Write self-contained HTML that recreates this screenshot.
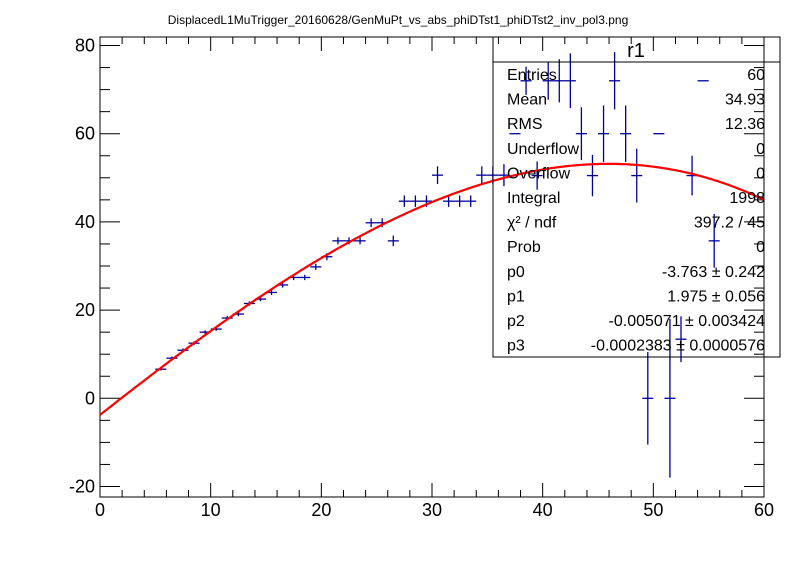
<!DOCTYPE html>
<html><head><meta charset="utf-8"><style>
html,body{margin:0;padding:0;background:#fff;}
svg{display:block;font-family:"Liberation Sans",Arial,sans-serif;}
</style></head><body>
<svg id="c" width="796" height="572" viewBox="0 0 796 572">
<rect width="796" height="572" fill="#fff"/>
<text x="398" y="24" font-size="12" text-anchor="middle">DisplacedL1MuTrigger_20160628/GenMuPt_vs_abs_phiDTst1_phiDTst2_inv_pol3.png</text>
<g id="axes"></g>
<g id="marks"></g>
<g id="fit"></g>
<g id="stats"></g>
</svg>
<script>
const binCenters=[5.5,6.5,7.5,8.5,9.5,10.5,11.5,12.5,13.5,14.5,15.5,16.5,17.5,18.5,19.5,20.5,21.5,22.5,23.5,24.5,25.5,26.5,27.5,28.5,29.5,30.5,31.5,32.5,33.5,34.5,35.5,36.5,37.5,38.5,39.5,40.5,41.5,42.5,43.5,44.5,45.5,46.5,47.5,48.5,49.5,50.5,51.5,52.5,53.5,54.5,55.5];
const values=[6.6,9.1,10.9,12.5,15,15.7,18.2,19.1,21.5,22.5,24,25.7,27.4,27.4,29.8,32.1,35.7,35.7,35.7,39.8,39.8,35.7,44.7,44.7,44.7,50.6,44.7,44.7,44.7,50.6,50.6,50.6,60,72,50.5,72,72,72,60,50.5,60,72,60,50.5,0,60,0,13.4,50.5,72,35.7];
const errors=[0.3,0.4,0.4,0.4,0.4,0.4,0.5,0.5,0.5,0.5,0.6,0.6,0.6,0.6,0.7,0.8,0.8,0.8,0.8,1,1,1.2,1.3,1.3,1.3,2,1.3,1.3,1.3,2,2,2.5,0,3.2,3.2,4.3,4.9,6.2,6,4.7,6.4,6.5,6.4,6.1,10.5,0,18,5.2,4.5,0,6.1];
const fitParams=[-3.763,1.975,-0.005071,-0.0002383];
const xTicks=[0,10,20,30,40,50,60];
const yTicks=[-20,0,20,40,60,80];
const statLabels=["Entries","Mean","RMS","Underflow","Overflow","Integral","χ² / ndf","Prob","p0","p1","p2","p3"];
const statValues=["60","34.93","12.36","0","0","1998","397.2 / 45","0","-3.763 ± 0.242","1.975 ± 0.056","-0.005071 ± 0.003424","-0.0002383 ± 0.0000576"];

const NS="http://www.w3.org/2000/svg";
const X0=100,X1=764,Y0=37,Y1=497;
const xs=v=>X0+(v-0)/60*(X1-X0);
const ys=v=>398.3-v*4.41;
function mk(tag,attrs,parent){const e=document.createElementNS(NS,tag);for(const k in attrs)e.setAttribute(k,attrs[k]);parent.appendChild(e);return e;}
const axes=document.getElementById('axes');
const frame=mk('rect',{x:X0,y:Y0,width:X1-X0,height:Y1-Y0,fill:'none',stroke:'#000','stroke-width':1},axes);


for(let v=0;v<=60;v+=2){
  const maj=v%10===0,L=maj?14:7,x=xs(v);
  mk('line',{x1:x,y1:Y1,x2:x,y2:Y1-L,stroke:'#000'},axes);
  mk('line',{x1:x,y1:Y0,x2:x,y2:Y0+L,stroke:'#000'},axes);
}
for(let v=-20;v<=80;v+=5){
  const maj=v%20===0,L=maj?20:10,y=ys(v);
  if(y<Y0||y>Y1)continue;
  mk('line',{x1:X0,y1:y,x2:X0+L,y2:y,stroke:'#000'},axes);
  mk('line',{x1:X1,y1:y,x2:X1-L,y2:y,stroke:'#000'},axes);
}
xTicks.forEach(v=>{const t=mk('text',{x:xs(v),y:516,'font-size':18,'text-anchor':'middle'},axes);t.textContent=v;

});
yTicks.forEach(v=>{const t=mk('text',{x:95,y:ys(v)+6,'font-size':18,'text-anchor':'end'},axes);t.textContent=v;

});
const marks=document.getElementById('marks');
binCenters.forEach((b,i)=>{
  const g=mk('g',{stroke:'#000099','stroke-width':1.3},marks);
  
  
  const y=ys(values[i]);
  mk('line',{x1:xs(b-0.5),y1:y,x2:xs(b+0.5),y2:y},g);
  if(errors[i]>0)mk('line',{x1:xs(b),y1:ys(values[i]+errors[i]),x2:xs(b),y2:ys(values[i]-errors[i])},g);
});
const fit=document.getElementById('fit');
let d='';
for(let i=0;i<=300;i++){const x=i*60/300;const v=fitParams[0]+fitParams[1]*x+fitParams[2]*x*x+fitParams[3]*x*x*x;d+=(i?'L':'M')+xs(x).toFixed(1)+' '+ys(v).toFixed(1);}
const p=mk('path',{d:d,fill:'none',stroke:'#ff0000','stroke-width':2.2},fit);


const st=document.getElementById('stats');
mk('rect',{x:493,y:37,width:287,height:320,fill:'none',stroke:'#000'},st);
mk('line',{x1:493,y1:62,x2:780,y2:62,stroke:'#000'},st);
const tt=mk('text',{x:636,y:57,'font-size':20,'text-anchor':'middle'},st);tt.textContent='r1';
statLabels.forEach((l,i)=>{
  const y=80+i*24.6;
  const a=mk('text',{x:507,y:y,'font-size':16},st);a.textContent=l;
  
  
  const b=mk('text',{x:765,y:y,'font-size':16,'text-anchor':'end'},st);b.textContent=statValues[i];
  
  
});
</script>
</body></html>
